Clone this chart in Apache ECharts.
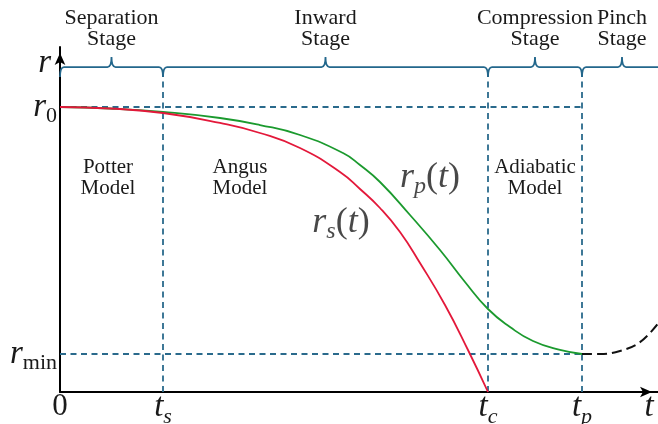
<!DOCTYPE html>
<html>
<head>
<meta charset="utf-8">
<script src="https://cdn.jsdelivr.net/npm/echarts@6/dist/echarts.min.js"></script>
<style>
  html, body { margin: 0; padding: 0; background: #ffffff; }
  #chart { width: 658px; height: 424px; }
</style>
</head>
<body>
<div id="chart"></div>
<script>
// Characteristic times and radii of the implosion
const T_S = 1.03, T_C = 4.28, T_P = 5.22, T_MAX = 5.98;
const R_0 = 1.0, R_MIN = 0.1333, R_MAX = 1.2105;
const R_BRACE = 1.14;      // height of the stage braces
const R_DIV_TOP = 1.105;   // top of the dashed stage dividers

// Shock radius r_s(t)
const rsT = [0, 0.5, 1.03, 1.6, 2.0, 2.4, 2.8, 3.0, 3.2, 3.4, 3.6, 3.85, 4.08, 4.28];
const rsR = [1.0, 0.9947, 0.9789, 0.9439, 0.9088, 0.8561, 0.7719, 0.7123, 0.6456, 0.5614, 0.4526, 0.3053, 0.1474, 0.0];

// Piston radius r_p(t)
const rpT = [0, 0.5, 1.03, 1.6, 2.0, 2.4, 2.83, 3.0, 3.2, 3.5, 3.8, 4.05, 4.28, 4.5, 4.73, 5.0, 5.22];
const rpR = [1.0, 0.9947, 0.9825, 0.9614, 0.9368, 0.9018, 0.8386, 0.7965, 0.7368, 0.6211, 0.4982, 0.3860, 0.2912, 0.2281, 0.1789, 0.1474, 0.1333];

// Pinch phase continuation (dashed)
const pinchT = [5.22, 5.40, 5.60, 5.80, 5.98];
const pinchR = [0.1333, 0.1333, 0.144, 0.175, 0.24];

// Stages (braces along the top)
const stageStart = [0, T_S, T_C, T_P];
const stageEnd = [T_S, T_C, T_P, 6.02];
const stageNames = ['Separation\nStage', 'Inward\nStage', 'Compression\nStage', 'Pinch\nStage'];

// Model names inside each region
const modelNames = ['Potter\nModel', 'Angus\nModel', 'Adiabatic\nModel'];
const modelT = [0.48, 1.80, 4.75];
const modelR = [0.751, 0.751, 0.751];

// Curve name labels
const curveLabels = ['{c|r}{cs|s}{cn|(}{c|t}{cn|)}', '{c|r}{cs|p}{cn|(}{c|t}{cn|)}'];
const curveLabelT = [2.81, 3.70];
const curveLabelR = [0.596, 0.754];

// Axis tick labels
const xTickValues = [0, T_S, T_C, T_P, 5.89];
const xTickLabels = ['{n|0}', '{i|t}{s|s}', '{i|t}{s|c}', '{i|t}{s|p}', '{i|t}'];
const yTickValues = [R_MIN, R_0, 1.154];
const yTickLabels = ['{i|r}{u|min}', '{i|r}{u|0}', '{ir|r}'];

const SERIF = 'Liberation Serif';
const INK = '#1a1a1a';
const DIV_BLUE = '#2a6a8c';
const BRACE_BLUE = '#23678c';

const yRich = {
  i: { fontFamily: SERIF, fontStyle: 'italic', fontSize: 33, lineHeight: 40, color: INK },
  ir: { fontFamily: SERIF, fontStyle: 'italic', fontSize: 33, lineHeight: 40, color: INK, padding: [0, 6, 0, 0] },
  u: { fontFamily: SERIF, fontSize: 22, lineHeight: 20, verticalAlign: 'bottom', color: INK }
};

const xRich = {
  i: { fontFamily: SERIF, fontStyle: 'italic', fontSize: 33, lineHeight: 42, color: INK },
  n: { fontFamily: SERIF, fontSize: 31, lineHeight: 42, color: INK },
  s: { fontFamily: SERIF, fontStyle: 'italic', fontSize: 22, lineHeight: 20, verticalAlign: 'bottom', color: INK }
};

const curveRich = {
  c: { fontFamily: SERIF, fontStyle: 'italic', fontSize: 36, lineHeight: 44, color: INK },
  cn: { fontFamily: SERIF, fontSize: 36, lineHeight: 44, color: INK },
  cs: { fontFamily: SERIF, fontStyle: 'italic', fontSize: 24, lineHeight: 22, verticalAlign: 'bottom', color: INK }
};

function pick(values, labels, v) {
  for (let k = 0; k < values.length; k++) {
    if (Math.abs(values[k] - v) < 1e-6) return labels[k];
  }
  return '';
}

const zip = (a, b) => a.map((v, k) => [v, b[k]]);

// Dashed reference lines
const refLines = [
  [[0, R_0], [T_P, R_0]],
  [[0, R_MIN], [T_P, R_MIN]],
  [[T_S, 0], [T_S, R_DIV_TOP]],
  [[T_C, 0], [T_C, R_DIV_TOP]],
  [[T_P, 0], [T_P, R_DIV_TOP]]
];

const chart = echarts.init(document.getElementById('chart'), null, { renderer: 'canvas' });

const series = [];

refLines.forEach((seg, k) => {
  series.push({
    type: 'line', name: 'ref' + k, data: seg, symbol: 'none', silent: true, z: 1,
    lineStyle: { color: DIV_BLUE, width: 1.8, type: [6, 4.5] }
  });
});

series.push({
  type: 'line', name: 'rp', data: zip(rpT, rpR), symbol: 'none', smooth: 0.5, z: 3,
  lineStyle: { color: '#1b9a2e', width: 1.8 }
});
series.push({
  type: 'line', name: 'rs', data: zip(rsT, rsR), symbol: 'none', smooth: 0.5, z: 4,
  lineStyle: { color: '#e3183a', width: 1.8 }
});
series.push({
  type: 'line', name: 'pinch', data: zip(pinchT, pinchR), symbol: 'none', smooth: 0.4, z: 3,
  lineStyle: { color: '#111111', width: 2, type: [10, 5] }
});

// Braces with stage names
series.push({
  type: 'custom', name: 'stages', clip: false, silent: true, z: 5,
  data: stageStart.map((s, k) => [s, stageEnd[k], R_BRACE, k]),
  renderItem: function (params, api) {
    const a = api.coord([api.value(0), api.value(2)]);
    const b = api.coord([api.value(1), api.value(2)]);
    const y = a[1], x0 = a[0], x1 = b[0], m = (x0 + x1) / 2;
    const h = 10, c = 4;
    const d = 'M' + x0 + ',' + (y + h) +
      ' Q' + x0 + ',' + y + ' ' + (x0 + c) + ',' + y +
      ' L' + (m - c) + ',' + y +
      ' Q' + m + ',' + y + ' ' + m + ',' + (y - h) +
      ' Q' + m + ',' + y + ' ' + (m + c) + ',' + y +
      ' L' + (x1 - c) + ',' + y +
      ' Q' + x1 + ',' + y + ' ' + x1 + ',' + (y + h);
    return {
      type: 'group',
      children: [
        {
          type: 'path',
          shape: { pathData: d },
          style: { fill: 'none', stroke: BRACE_BLUE, lineWidth: 1.8 }
        },
        {
          type: 'text',
          x: m, y: y - h - 7,
          style: {
            text: stageNames[api.value(3)],
            fontFamily: SERIF, fontSize: 22, lineHeight: 21,
            fill: INK, align: 'center', verticalAlign: 'bottom'
          }
        }
      ]
    };
  }
});

// Model names
series.push({
  type: 'custom', name: 'models', clip: false, silent: true, z: 5,
  data: modelT.map((t, k) => [t, modelR[k], k]),
  renderItem: function (params, api) {
    const p = api.coord([api.value(0), api.value(1)]);
    return {
      type: 'text', x: p[0], y: p[1],
      style: {
        text: modelNames[api.value(2)],
        fontFamily: SERIF, fontSize: 21, lineHeight: 21,
        fill: INK, align: 'center', verticalAlign: 'middle'
      }
    };
  }
});

// Curve labels
series.push({
  type: 'scatter', name: 'curveNames', silent: true, z: 6,
  symbolSize: 1, itemStyle: { color: 'transparent' },
  data: curveLabelT.map((t, k) => ({ value: [t, curveLabelR[k]], label: { formatter: curveLabels[k] } })),
  label: { show: true, position: 'inside', rich: curveRich }
});

chart.setOption({
  animation: false,
  backgroundColor: '#ffffff',
  grid: { left: 60, right: 0, top: 47, bottom: 32, containLabel: false, outerBoundsMode: 'none' },
  xAxis: {
    type: 'value', min: 0, max: T_MAX,
    splitLine: { show: false },
    axisTick: { show: false },
    axisLine: {
      onZero: false,
      lineStyle: { color: '#000000', width: 2 },
      symbol: ['none', 'arrow'], symbolSize: [8, 12], symbolOffset: [0, -6]
    },
    axisLabel: {
      customValues: xTickValues,
      margin: -6,
      formatter: v => pick(xTickValues, xTickLabels, v),
      rich: xRich
    }
  },
  yAxis: {
    type: 'value', min: 0, max: R_MAX,
    splitLine: { show: false },
    axisTick: { show: false },
    axisLine: {
      onZero: false,
      lineStyle: { color: '#000000', width: 2 },
      symbol: ['none', 'arrow'], symbolSize: [8, 12], symbolOffset: [0, -6]
    },
    axisLabel: {
      customValues: yTickValues,
      margin: 3,
      formatter: v => pick(yTickValues, yTickLabels, v),
      rich: yRich
    }
  },
  series: series
});
</script>
</body>
</html>
